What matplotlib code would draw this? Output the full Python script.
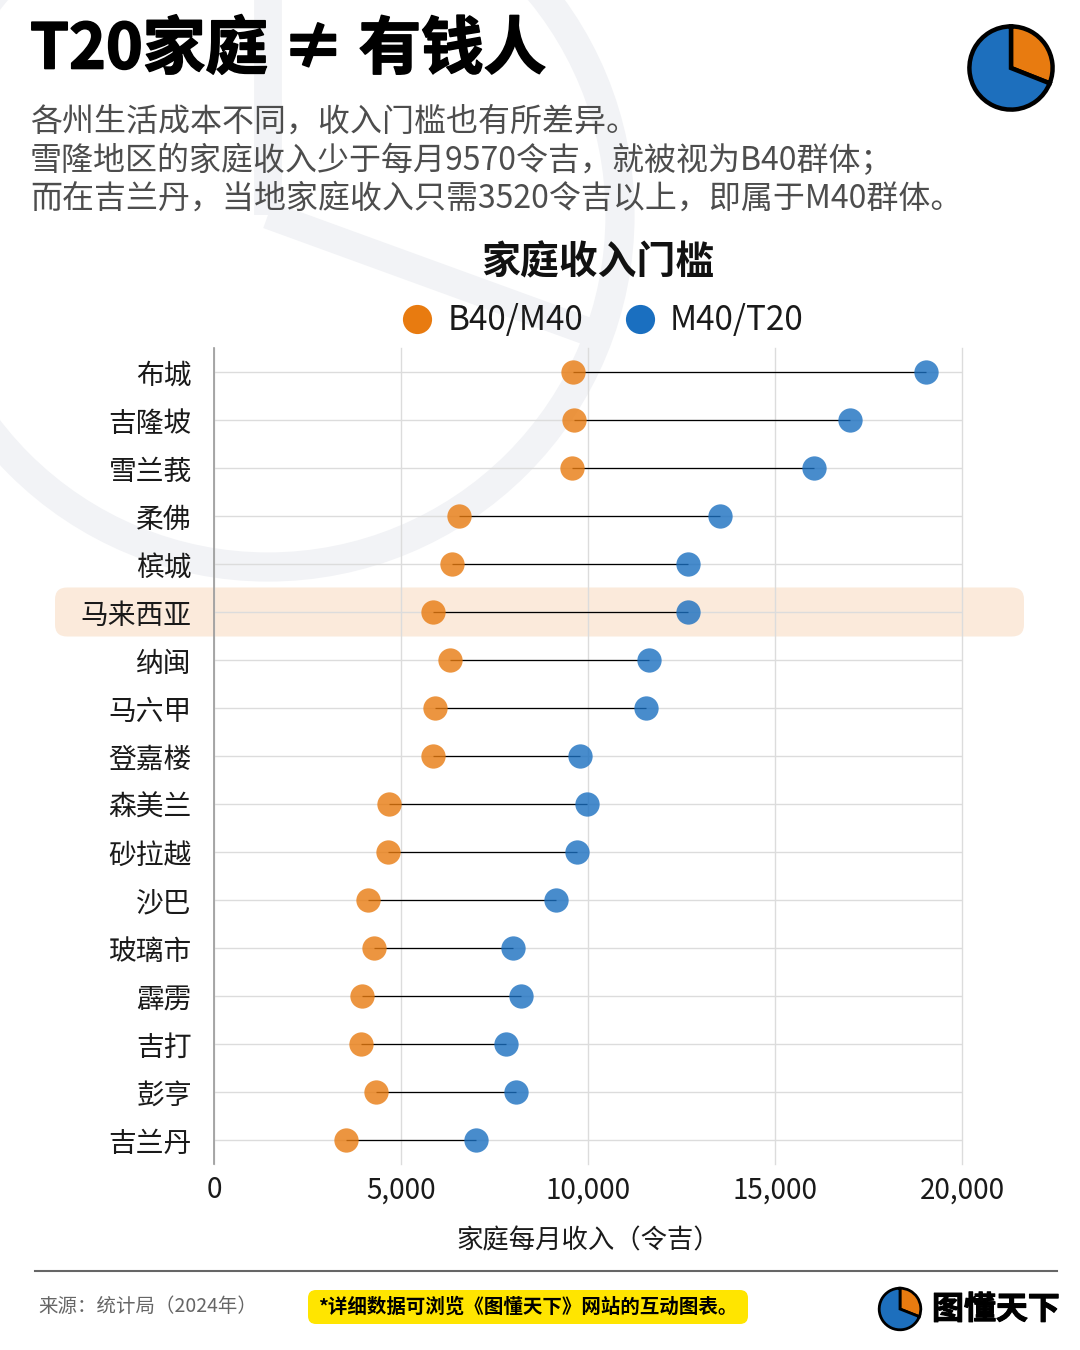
import numpy as np
import matplotlib
matplotlib.use("Agg")
import matplotlib.pyplot as plt
import matplotlib.patheffects as pe
from matplotlib.patches import Circle, FancyBboxPatch

plt.rcParams['font.family'] = ['Noto Sans CJK SC', 'DejaVu Sans']

# Data (RM per month)
states = ['布城', '吉隆坡', '雪兰莪', '柔佛', '槟城', '马来西亚', '纳闽', '马六甲', '登嘉楼',
          '森美兰', '砂拉越', '沙巴', '玻璃市', '霹雳', '吉打', '彭亨', '吉兰丹']
b40_m40 = [9600, 9620, 9570, 6550, 6360, 5860, 6310, 5910, 5860,
           4680, 4650, 4120, 4280, 3960, 3930, 4330, 3520]
m40_t20 = [19040, 17010, 16040, 13530, 12680, 12680, 11630, 11550, 9790,
           9970, 9710, 9150, 8000, 8210, 7810, 8080, 7010]
highlight = '马来西亚'
x_ticks = [0, 5000, 10000, 15000, 20000]

orange = '#e87b10'
blue = '#1a6fc0'

W, H = 1080, 1350
fig = plt.figure(figsize=(W / 100, H / 100), dpi=100)
fig.patch.set_facecolor('white')

# Background layer in pixel coordinates (watermark, highlight band, footer)
bg = fig.add_axes([0, 0, 1, 1], zorder=0)
bg.set_xlim(0, W)
bg.set_ylim(H, 0)
bg.axis('off')

wm = '#f2f3f6'
cx, cy, r = 268, 215, 352
bg.add_patch(Circle((cx, cy), r, fill=False, lw=21, ec=wm))
bg.plot([cx, cx], [cy, -200], color=wm, lw=20, solid_capstyle='butt')
ang = np.deg2rad(20)
bg.plot([cx, cx + r * np.cos(ang)], [cy, cy + r * np.sin(ang)], color=wm, lw=20,
        solid_capstyle='butt')

# Main chart
ax = fig.add_axes([214 / W, 1 - 1164 / H, 748 / W, 816 / H], zorder=2)
ax.set_facecolor('none')
ypos = np.arange(len(states))

ax.hlines(ypos, b40_m40, m40_t20, color='black', lw=0.9, zorder=2)
ax.plot(b40_m40, ypos, 'o', ms=17.5, color=orange, alpha=0.8, mec='none', zorder=3,
        label='B40/M40')
ax.plot(m40_t20, ypos, 'o', ms=17.5, color=blue, alpha=0.8, mec='none', zorder=3,
        label='M40/T20')

ax.set_xlim(0, 20000)
ax.set_ylim(len(states) - 0.5, -0.5)
ax.set_xticks(x_ticks)
ax.set_xticklabels([f'{v:,}' for v in x_ticks])
ax.set_yticks(ypos)
ax.set_yticklabels(states)
ax.grid(True, color='#dcdcdc', lw=1)
for gl in ax.get_xgridlines():
    gl.set_clip_on(False)
ax.set_axisbelow(True)
for s in ['top', 'right', 'bottom']:
    ax.spines[s].set_visible(False)
ax.spines['left'].set_color('#9a9a9a')
ax.spines['left'].set_linewidth(1.2)
ax.tick_params(axis='both', length=0, colors='#1a1a1a')
ax.tick_params(axis='y', labelsize=20, pad=16)
ax.tick_params(axis='x', labelsize=20, pad=8)
ax.set_xlabel('家庭每月收入（令吉）', fontsize=19, color='#1a1a1a', labelpad=16)

# Highlight band behind the Malaysia row
fig.canvas.draw()
hi = states.index(highlight)
y_pix = H - ax.transData.transform((0, hi))[1]
band_h = 49
bg.add_patch(FancyBboxPatch((55, y_pix - band_h / 2), 969, band_h,
                            boxstyle='round,pad=0,rounding_size=12',
                            fc='#fbeadb', ec='none', zorder=1))

# Legend
leg = fig.legend(loc='center', bbox_to_anchor=(602 / W, 1 - 321 / H), ncol=2,
                 frameon=False, fontsize=24, handlelength=1.0, handletextpad=0.4,
                 columnspacing=1.2, markerscale=1.2)
for h in leg.legend_handles:
    h.set_alpha(1)
for t in leg.get_texts():
    t.set_color('#1a1a1a')

# Titles
fig.text(30 / W, 1 - 50 / H, 'T20家庭 ≠ 有钱人', fontsize=45, fontweight='bold',
         va='center', ha='left', color='black',
         path_effects=[pe.withStroke(linewidth=1.2, foreground='black')])
subtitle = ['各州生活成本不同，收入门槛也有所差异。',
            '雪隆地区的家庭收入少于每月9570令吉，就被视为B40群体；',
            '而在吉兰丹，当地家庭收入只需3520令吉以上，即属于M40群体。']
for i, line in enumerate(subtitle):
    fig.text(30 / W, 1 - (122 + 38.5 * i) / H, line, fontsize=23, fontweight='light',
             va='center', ha='left', color='#4d4d4d')
fig.text(598 / W, 1 - 263 / H, '家庭收入门槛', fontsize=28, fontweight='bold',
         va='center', ha='center', color='#111111')

# Pie icons
def pie_icon(cxp, cyp, rp, lw):
    pa = fig.add_axes([(cxp - rp) / W, 1 - (cyp + rp) / H, 2 * rp / W, 2 * rp / H], zorder=3)
    pa.pie([0.31, 0.69], colors=[orange, '#1d6fbd'], startangle=90, counterclock=False,
           wedgeprops=dict(edgecolor='black', linewidth=lw))
    pa.set_aspect('equal')
    pa.axis('off')

pie_icon(1011, 68, 52, 3.2)
pie_icon(900, 1309, 26, 2)

# Footer
bg.plot([35, 1057], [1271, 1271], color='#666666', lw=1.5)
fig.text(38 / W, 1 - 1307 / H, '来源：统计局（2024年）', fontsize=14, color='#666666',
         va='center', ha='left')
bg.add_patch(FancyBboxPatch((308, 1290), 440, 34, boxstyle='round,pad=0,rounding_size=8',
                            fc='#ffe500', ec='none'))
fig.text(528 / W, 1 - 1307 / H, '*详细数据可浏览《图懂天下》网站的互动图表。', fontsize=14,
         fontweight='bold', color='black', va='center', ha='center')
fig.text(932 / W, 1 - 1310 / H, '图懂天下', fontsize=23, fontweight='bold',
         color='black', va='center', ha='left',
         path_effects=[pe.withStroke(linewidth=0.8, foreground='black')])

fig.savefig('out.png', dpi=100, facecolor='white')
